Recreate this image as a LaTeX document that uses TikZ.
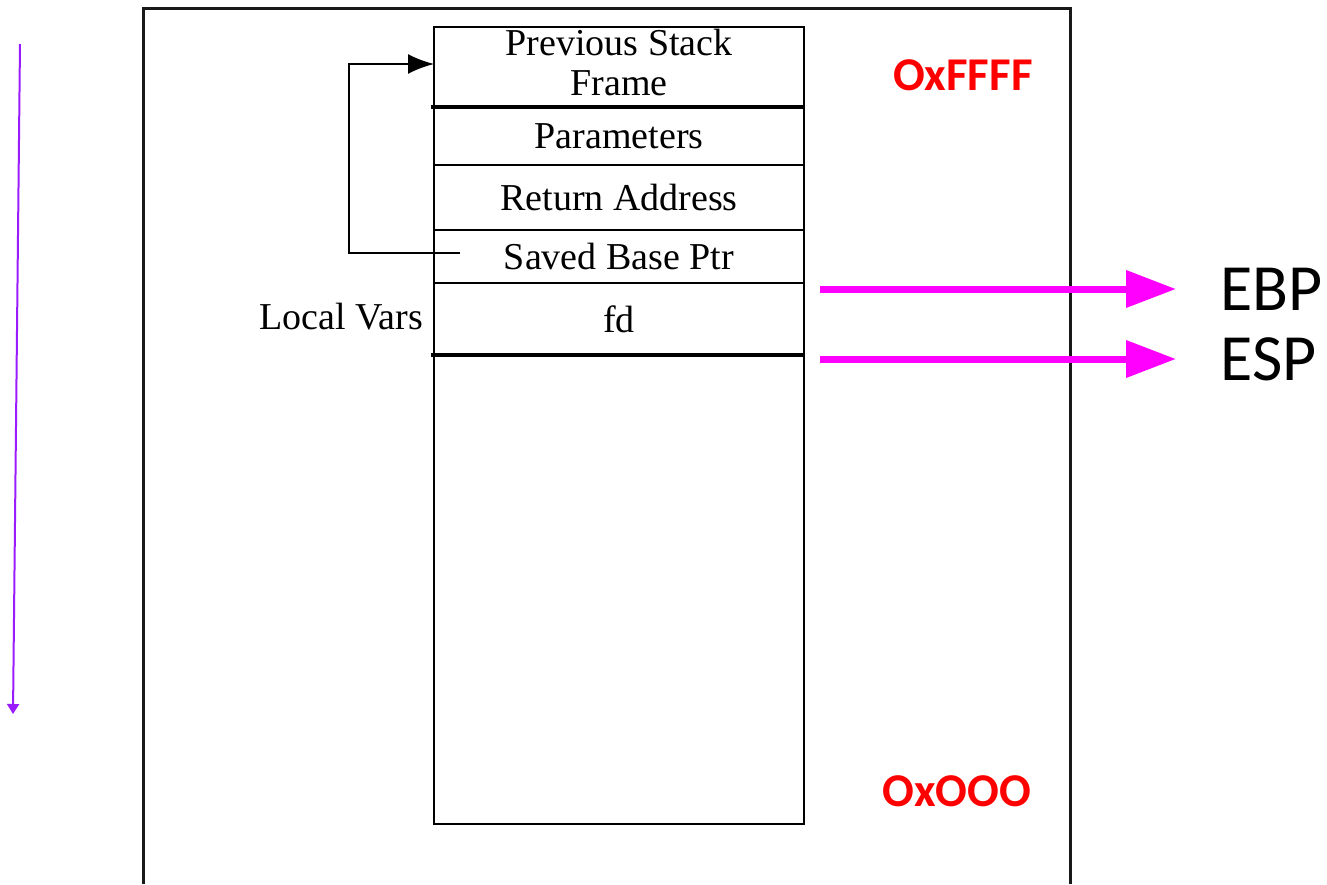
\documentclass[tikz,border=0pt]{standalone}
\usepackage{fontspec}
\setmainfont{Liberation Serif}
\newfontfamily\calibri{Carlito}
\usetikzlibrary{positioning,arrows.meta}
\definecolor{ptrpink}{HTML}{FF00FF}
\definecolor{growpurple}{HTML}{9B1BFF}
\definecolor{addrred}{HTML}{FF0000}

\begin{document}
\begin{tikzpicture}[
  x=0.5pt, y=-0.5pt,
  every node/.style={font=\fontsize{19}{20}\selectfont},
  cell/.style={draw, line width=1pt, minimum width=185pt,
    inner sep=0pt, outer sep=0pt, align=center},
  regptr/.style={ptrpink, line width=3.5pt,
    -{Triangle[length=25pt,width=18pt]}},
  addr/.style={font=\calibri\bfseries\fontsize{23.5}{26}\selectfont,
    text=addrred},
  reg/.style={font=\calibri\fontsize{33}{36}\selectfont, inner sep=0pt},
]
\useasboundingbox (0,0) rectangle (1327,884);

% ── outer frame ──────────────────
\draw[line width=1.5pt, black!90] (143,884) -- (143,8) -- (1070,8) -- (1070,884);

% ── growth direction ─────────────
\coordinate (grow-top) at (20,44);
\coordinate (grow-bot) at (13,714);
\draw[growpurple, line width=1pt, -{Triangle[length=5pt,width=6pt]}]
  (grow-top) -- (grow-bot);

% ── stack cells ──────────────────
\node[cell, minimum height=40pt, text depth=5pt] (prev) at (619,67) {Previous Stack\\Frame};
\node[cell, minimum height=29pt, below=0pt of prev] (params) {Parameters};
\node[cell, minimum height=32.5pt, below=0pt of params] (ret) {Return Address};
\node[cell, minimum height=26.5pt, below=0pt of ret] (saved) {Saved Base Ptr};
\node[cell, minimum height=36pt, below=0pt of saved] (fd) {fd};
\node[cell, minimum height=234.5pt, below=0pt of fd] (free) {};

\draw[line width=2pt] ([xshift=-1.5pt]prev.south west) -- (prev.south east);
\draw[line width=2pt] ([xshift=-1.5pt]fd.south west) -- (fd.south east);

\node[anchor=east] (locals) at ([xshift=-2pt,yshift=1pt]fd.west) {Local Vars};

% ── saved base pointer link ──────
\coordinate (link) at ([xshift=13pt,yshift=1.75pt]saved.west);
\draw[line width=1pt, -{Latex[length=13pt,width=10pt]}]
  (link) -- ++(-111,0) |- ([yshift=1.5pt]prev.west);

% ── register pointers ────────────
\node[reg, anchor=west] (ebp) at (1220,289) {EBP};
\node[reg, anchor=west] (esp) at (1220,359) {ESP};
\draw[regptr] (ebp.west -| fd.east) ++(8pt,0) -- ([xshift=-22pt]ebp.west);
\draw[regptr] (esp.west -| fd.east) ++(8pt,0) -- ([xshift=-22pt]esp.west);

% ── address labels ───────────────
\node[addr] (hi) at (963,75) {OxFFFF};
\node[addr] (lo) at (957,791) {OxOOO};

\end{tikzpicture}
\end{document}
